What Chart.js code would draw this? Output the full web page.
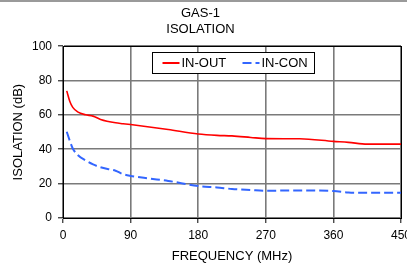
<!DOCTYPE html>
<html>
<head>
<meta charset="utf-8">
<script src="https://cdn.jsdelivr.net/npm/chart.js@4/dist/chart.umd.min.js"></script>
<style>
    html, body { margin: 0; padding: 0; background: #fff; overflow: hidden; }
    #wrap { position: relative; width: 407px; height: 264px; }
    #topline { position: absolute; left: 0; top: 0; width: 407px; height: 2px; background: #9a9a9a; }
</style>
</head>
<body>
<div id="wrap">
    <canvas id="isoChart" width="407" height="264"></canvas>
    <div id="topline"></div>
</div>
<script>
// Frequency points (MHz) and measured isolation (dB)
const freqMHz = [5, 9, 13, 20, 30, 40, 50, 70, 80, 90, 115, 140, 180, 205, 225, 250, 270, 315, 360, 380, 405, 450];
const inOut = [74, 68, 64.4, 61.6, 60.1, 59.3, 57.4, 55.4, 54.9, 54.4, 53, 51.5, 48.9, 48.1, 47.8, 46.9, 46.2, 46.1, 44.6, 44, 43, 43];
const inCon = [50.2, 45, 40.5, 36.5, 33.5, 31.2, 29.5, 27.5, 25.5, 24.5, 23, 21.6, 18.6, 17.8, 16.9, 16.3, 15.9, 16.0, 15.7, 14.9, 14.7, 14.7];

const xTicks = [0, 90, 180, 270, 360, 450];
const yTicks = [0, 20, 40, 60, 80, 100];

const FONT = 'Liberation Sans, Arial, sans-serif';

function toPoints(values) {
    return freqMHz.map(function(f, i) { return { x: f, y: values[i] }; });
}

// Black frame round the plot area plus the boxed legend inside it
const frameAndLegend = {
    id: 'frameAndLegend',
    afterDatasetsDraw: function(chart) {
        const ctx = chart.ctx;
        const a = chart.chartArea;
        ctx.save();
        ctx.strokeStyle = '#000';
        ctx.lineWidth = 1;
        ctx.strokeRect(Math.round(a.left) + 0.5, Math.round(a.top) + 0.5,
            Math.round(a.right - a.left), Math.round(a.bottom - a.top));

        // legend box
        const bx = Math.round(a.left) + 89.5;
        const by = Math.round(a.top) + 6.5;
        const bw = 162, bh = 21;
        ctx.fillStyle = '#fff';
        ctx.fillRect(bx, by, bw, bh);
        ctx.strokeRect(bx, by, bw, bh);

        const midY = by + bh / 2;
        ctx.font = '13px ' + FONT;
        ctx.textBaseline = 'middle';
        ctx.fillStyle = '#000';

        chart.data.datasets.forEach(function(ds, i) {
            const sx = bx + 10 + i * 80;
            ctx.beginPath();
            ctx.strokeStyle = ds.borderColor;
            ctx.lineWidth = 2;
            ctx.setLineDash(ds.borderDash || []);
            ctx.moveTo(sx, midY);
            ctx.lineTo(sx + 17, midY);
            ctx.stroke();
            ctx.setLineDash([]);
            ctx.fillText(ds.label, sx + 19, midY + 0.5);
        });
        ctx.restore();
    }
};

new Chart(document.getElementById('isoChart').getContext('2d'), {
    type: 'line',
    data: {
        datasets: [
            {
                label: 'IN-OUT',
                data: toPoints(inOut),
                borderColor: '#ff0000',
                borderWidth: 1.6,
                pointRadius: 0,
                cubicInterpolationMode: 'monotone',
                fill: false
            },
            {
                label: 'IN-CON',
                data: toPoints(inCon),
                borderColor: '#3366ff',
                borderWidth: 2,
                borderDash: [9, 4],
                pointRadius: 0,
                cubicInterpolationMode: 'monotone',
                fill: false
            }
        ]
    },
    options: {
        responsive: false,
        animation: false,
        events: [],
        layout: { padding: { left: 0, right: 6, top: 0, bottom: 0 } },
        plugins: {
            legend: { display: false },
            tooltip: { enabled: false },
            title: {
                display: true,
                text: ['GAS-1', 'ISOLATION'],
                color: '#000',
                font: { family: FONT, size: 13, weight: 'normal', lineHeight: 1.2 },
                padding: { top: 6, bottom: 9 }
            }
        },
        scales: {
            x: {
                type: 'linear',
                min: 0,
                max: 450,
                afterBuildTicks: function(scale) {
                    scale.ticks = xTicks.map(function(v) { return { value: v }; });
                },
                afterFit: function(scale) {
                    scale.paddingRight = 0;
                    scale.paddingLeft = 0;
                    scale.height = 46;
                },
                ticks: {
                    color: '#000',
                    font: { family: FONT, size: 12 },
                    padding: 5,
                    maxRotation: 0
                },
                grid: { color: '#7a7a7a', tickColor: '#000', tickLength: 5, lineWidth: 1.6, tickWidth: 1 },
                border: { color: '#000', width: 1 },
                title: {
                    display: true,
                    text: 'FREQUENCY (MHz)',
                    color: '#000',
                    font: { family: FONT, size: 13, weight: 'normal' },
                    padding: { top: 0, bottom: 0 }
                }
            },
            y: {
                min: 0,
                max: 100,
                afterBuildTicks: function(scale) {
                    scale.ticks = yTicks.map(function(v) { return { value: v }; });
                },
                afterFit: function(scale) {
                    scale.width = 63;
                },
                ticks: {
                    color: '#000',
                    font: { family: FONT, size: 12 },
                    padding: 6
                },
                grid: { color: '#7a7a7a', tickColor: '#000', tickLength: 5, lineWidth: 1.6, tickWidth: 1 },
                border: { color: '#000', width: 1 },
                title: {
                    display: true,
                    text: 'ISOLATION (dB)',
                    color: '#000',
                    font: { family: FONT, size: 13, weight: 'normal' },
                    padding: { top: 11, bottom: 0 }
                }
            }
        }
    },
    plugins: [frameAndLegend]
});
</script>
</body>
</html>
